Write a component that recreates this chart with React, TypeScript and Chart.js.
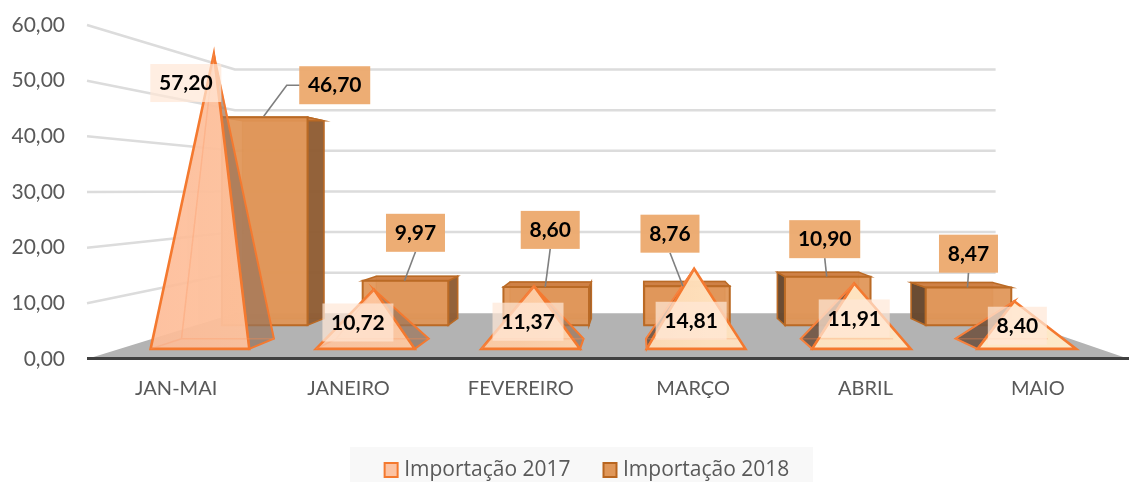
import React, { useEffect, useRef } from "react";
import { Chart, registerables } from "chart.js";

Chart.register(...registerables);

const categories = ["JAN-MAI", "JANEIRO", "FEVEREIRO", "MARÇO", "ABRIL", "MAIO"];
const series2017 = [57.2, 10.72, 11.37, 14.81, 11.91, 8.4];
const series2018 = [46.7, 9.97, 8.6, 8.76, 10.9, 8.47];
const label2017Offset = [[-28, 29], [-16, 33], [-6, 35.5], [-3, 52], [0, 35], [3, 24.5]];
const label2018Offset = [[70, -32], [10, -48], [4, -57], [-17, -52.5], [-3, -37.5], [0, -33.8]];

const VX = 635, VY = 190;
const WALL = 0.73, PF = 0.94, PB = 0.88, BF = 0.8, BB = 0.76;
const STRETCH = 1.0209, SHIFT = -7.68;
const fmt = (v: number) => v.toFixed(2).replace(".", ",");
const FONT = "Lato, 'Open Sans', sans-serif";

const proj = (X: number, py: number, s: number): [number, number] => [VX + (X - VX) * s, VY + (py - VY) * s];

function poly(ctx: CanvasRenderingContext2D, pts: [number, number][], fill: any, stroke?: string, lw = 2) {
  ctx.beginPath();
  pts.forEach((p, i) => (i ? ctx.lineTo(p[0], p[1]) : ctx.moveTo(p[0], p[1])));
  ctx.closePath();
  if (fill) { ctx.fillStyle = fill; ctx.fill(); }
  if (stroke) { ctx.strokeStyle = stroke; ctx.lineWidth = lw; ctx.lineJoin = "miter"; ctx.stroke(); }
}

const scene = {
  id: "scene",
  beforeLayout(chart: any) {
    const lg = chart.legend;
    if (lg && !lg.__wrapped) {
      const orig = lg.fit;
      lg.fit = function () { orig.call(this); this.height = 35; };
      lg.__wrapped = true;
    }
  },
  afterLayout(chart: any) {
    const lg = chart.legend;
    const textTop = 460, dx = 24.5;
    const newTop = textTop - lg.options.labels.padding;
    lg.left += dx; lg.right += dx; lg.top = newTop;
    const hb = lg.legendHitBoxes;
    hb.forEach((b: any) => { b.left += dx; b.top = textTop; });
  },
  beforeDraw(chart: any) {
    const ctx = chart.ctx;
    ctx.save();
    ctx.fillStyle = "#f8f8f8";
    ctx.fillRect(350, 447, 463, 35);
    ctx.restore();
  },
  afterDraw(chart: any) {
    const ctx = chart.ctx, lg = chart.legend;
    ctx.save();
    const fills = ["#fcc3a3", "#df9658"], strokes = ["#f4792f", "#b8651f"];
    lg.legendHitBoxes.forEach((b: any, i: number) => {
      ctx.fillStyle = fills[i]; ctx.strokeStyle = strokes[i]; ctx.lineWidth = 2;
      ctx.fillRect(b.left + 1, 463, 13, 14);
      ctx.strokeRect(b.left + 1, 463, 13, 14);
    });
    ctx.restore();
  },
  beforeDatasetsDraw(chart: any) {
    const ctx: CanvasRenderingContext2D = chart.ctx;
    const xs = chart.scales.x, ys = chart.scales.y;
    const Xof = (i: number) => xs.getPixelForValue(i) * STRETCH + SHIFT;
    const y0 = ys.getPixelForValue(0);
    const L = 87, R = 1129;
    ctx.save();
    // gridlines
    ys.ticks.forEach((t: any) => {
      const py = ys.getPixelForValue(t.value);
      if (t.value === 0) return;
      const a = proj(L, py, 1), b = proj(L, py, WALL), c = proj(R, py, WALL);
      ctx.beginPath();
      ctx.moveTo(a[0], a[1]); ctx.lineTo(b[0], b[1]); ctx.lineTo(c[0], c[1]);
      ctx.strokeStyle = "#dcdcdc"; ctx.lineWidth = 2.5; ctx.lineJoin = "round"; ctx.stroke();
    });
    // floor
    poly(ctx, [proj(L, y0, 1), proj(L, y0, WALL), proj(R, y0, WALL), proj(R, y0, 1)], "#b3b3b3");
    ctx.beginPath(); ctx.moveTo(L, y0 - 0.5); ctx.lineTo(R, y0 - 0.5);
    ctx.strokeStyle = "#404040"; ctx.lineWidth = 3; ctx.stroke();

    // 2018 boxes
    const HB = 53.5, lineBox = "#ba6a25";
    series2018.forEach((v, i) => {
      const X = Xof(i), py = ys.getPixelForValue(v);
      const fl = proj(X - HB, py, BF), fr = proj(X + HB, py, BF), bl = proj(X - HB, py, BB), br = proj(X + HB, py, BB);
      const fl0 = proj(X - HB, y0, BF), fr0 = proj(X + HB, y0, BF), bl0 = proj(X - HB, y0, BB), br0 = proj(X + HB, y0, BB);
      const rightOfVP = X > VX + 50;
      const leftOfVP = X < VX - 50;
      poly(ctx, [bl, br, br0, bl0], "rgba(215,140,80,0.55)", "rgba(186,106,37,0.5)", 1.5);
      if (leftOfVP) poly(ctx, [fr, br, br0, fr0], "rgba(140,90,50,0.92)", lineBox, 1.5);
      if (rightOfVP) poly(ctx, [fl, bl, bl0, fl0], "rgba(100,70,45,0.95)", lineBox, 1.5);
      poly(ctx, [fl, fr, br, bl], "rgba(205,125,65,0.95)", lineBox, 1.5);
      poly(ctx, [fl, fr, fr0, fl0], "rgba(224,148,86,0.93)", lineBox, 2);
    });

    // 2017 pyramids
    const HP = 52.5, line = "#f4792f";
    const grad = ctx.createLinearGradient(150, 0, 1080, 0);
    grad.addColorStop(0, "rgba(253,188,152,0.92)");
    grad.addColorStop(0.4, "rgba(254,205,165,0.94)");
    grad.addColorStop(0.6, "rgba(255,226,190,0.96)");
    grad.addColorStop(1, "rgba(255,234,200,0.98)");
    series2017.forEach((v, i) => {
      const X = Xof(i), py = ys.getPixelForValue(v);
      const apex = proj(X, py, (PF + PB) / 2);
      const fl = proj(X - HP, y0, PF), fr = proj(X + HP, y0, PF), bl = proj(X - HP, y0, PB), br = proj(X + HP, y0, PB);
      poly(ctx, [bl, br, apex], "rgba(250,190,150,0.25)", "rgba(250,160,110,0.55)", 1.5);
      if (X < VX + 20) poly(ctx, [fr, br, apex], "rgba(140,105,80,0.62)", line, 2);
      if (X > VX - 20) poly(ctx, [fl, bl, apex], "rgba(105,78,60,0.85)", line, 2);
      poly(ctx, [fl, fr, apex], grad, line, 2.6);
      // edges of the back of the pyramid, seen through the front face
      ctx.beginPath();
      ctx.moveTo(apex[0], apex[1]); ctx.lineTo(bl[0], bl[1]); ctx.lineTo(br[0], br[1]);
      ctx.moveTo(bl[0], bl[1]); ctx.lineTo(fl[0], fl[1]);
      ctx.strokeStyle = "rgba(250,150,100,0.28)"; ctx.lineWidth = 1.5; ctx.stroke();
    });

    // leaders
    ctx.strokeStyle = "#7f7f7f"; ctx.lineWidth = 1.6;
    series2018.forEach((v, i) => {
      const X = Xof(i), py = ys.getPixelForValue(v);
      const top = proj(X, py, BF);
      const o = label2018Offset[i];
      const lx = top[0] + o[0], ly = top[1] + o[1];
      ctx.beginPath();
      if (i === 0) {
        ctx.moveTo(top[0] - 1, top[1] - 1); ctx.lineTo(lx - 48, ly); ctx.lineTo(lx - 35, ly);
      } else {
        const sx = i === 3 ? top[0] - 4 : top[0] - 1;
        ctx.moveTo(sx, top[1]); ctx.lineTo(lx, ly + 19);
      }
      ctx.stroke();
    });

    // data labels
    ctx.font = "bold 21px " + FONT;
    ctx.textAlign = "center"; ctx.textBaseline = "middle";
    const drawLabel = (text: string, cx: number, cy: number, fill: string) => {
      const w = text.length === 5 ? 71 : 59;
      ctx.fillStyle = fill;
      ctx.fillRect(cx - w / 2, cy - 19, w, 38);
      ctx.fillStyle = "#000";
      ctx.fillText(text, cx, cy + 0.5);
    };
    series2018.forEach((v, i) => {
      const top = proj(Xof(i), ys.getPixelForValue(v), BF);
      const o = label2018Offset[i];
      drawLabel(fmt(v), top[0] + o[0], top[1] + o[1], "rgba(236,170,112,0.97)");
    });
    series2017.forEach((v, i) => {
      const top = proj(Xof(i), ys.getPixelForValue(v), (PF + PB) / 2);
      const o = label2017Offset[i];
      const text = fmt(v);
      drawLabel(text, top[0] + o[0], top[1] + o[1], "rgba(255,232,215,0.72)");
    });
    ctx.restore();
  },
  beforeDatasetDraw() { return false; },
};

export default function App() {
  const ref = useRef<HTMLCanvasElement>(null);
  useEffect(() => {
    const chart = new Chart(ref.current!, {
      type: "bar",
      data: {
        labels: categories,
        datasets: [
          { label: "Importação 2017", data: series2017, backgroundColor: "#fcc3a3", borderColor: "#f4792f" },
          { label: "Importação 2018", data: series2018, backgroundColor: "#df9658", borderColor: "#b8651f" },
        ],
      },
      plugins: [scene],
      options: {
        responsive: false,
        animation: false,
        layout: { padding: { top: 25, right: 5, left: 0, bottom: 0 } },
        scales: {
          x: {
            grid: { display: false },
            border: { display: false },
            ticks: { font: { family: FONT, size: 20 }, color: "#595959", padding: 10, maxRotation: 0, autoSkip: false },
            afterFit: (s: any) => { s.height = 88; s.paddingLeft = 0; s.paddingRight = 0; },
          },
          y: {
            min: 0, max: 60,
            grid: { display: false },
            border: { display: false },
            ticks: { stepSize: 10, font: { family: FONT, size: 21 }, color: "#595959", padding: 17, callback: (v: any) => fmt(Number(v)) },
            afterFit: (s: any) => { s.width = 90; s.paddingTop = 0; s.paddingBottom = 0; },
          },
        },
        plugins: {
          tooltip: { enabled: false },
          legend: {
            position: "bottom",
            labels: {
              boxWidth: 10, boxHeight: 14, padding: 32,
              font: { family: "'Open Sans', sans-serif", size: 21 },
              color: "#595959",
              generateLabels: (c: any) => c.data.datasets.map((d: any, i: number) => ({
                text: d.label, fillStyle: "rgba(0,0,0,0)", strokeStyle: "rgba(0,0,0,0)", lineWidth: 0, datasetIndex: i, fontColor: "#595959",
              })),
            },
          },
        },
      },
    } as any);
    return () => chart.destroy();
  }, []);
  return (
    <div style={{ position: "fixed", left: 0, top: 0, width: 1129, height: 482, background: "#fff" }}>
      <canvas ref={ref} width={1129} height={482} style={{ display: "block" }} />
    </div>
  );
}
